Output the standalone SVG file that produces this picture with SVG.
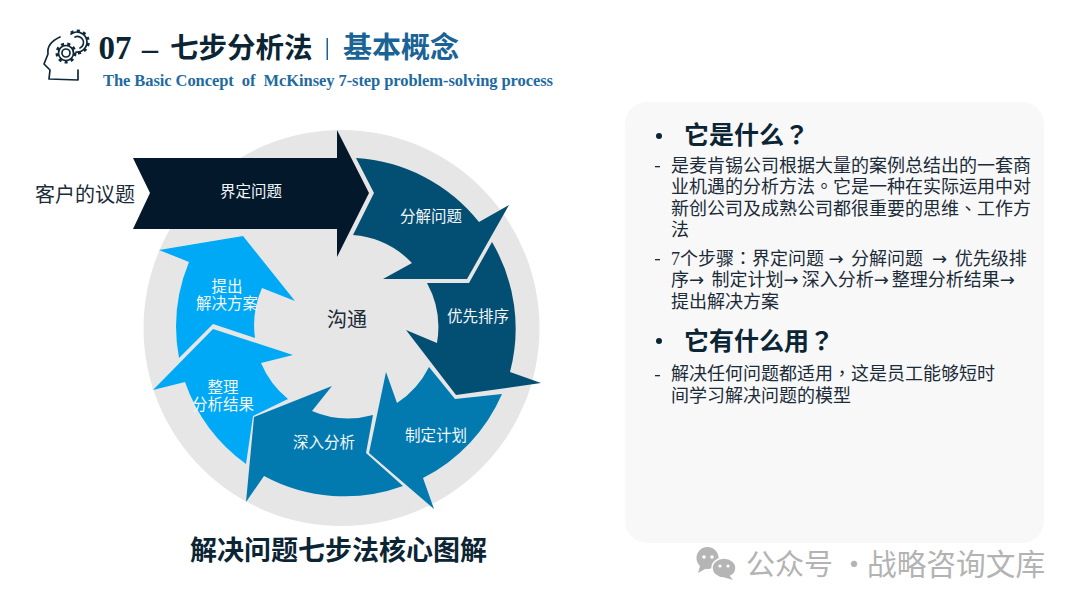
<svg xmlns="http://www.w3.org/2000/svg" width="1080" height="608" viewBox="0 0 1080 608">
<style>
text{font-family:"Liberation Serif","Noto Sans CJK SC",serif;white-space:pre}
.w{fill:#f2f6f9;font-size:15.5px;text-anchor:middle}
.b{fill:#1b2b38;font-size:18px}
.h{fill:#0b2535;font-size:25px;font-weight:700}
.p{font-family:"Liberation Serif","Noto Sans CJK TC",sans-serif}
.a{font-family:"DejaVu Sans",sans-serif;letter-spacing:3px}
.i{fill:none;stroke:#10293a;stroke-width:1.7;stroke-linecap:round;stroke-linejoin:round}
.t{fill:none;stroke:#10293a;stroke-width:3;stroke-dasharray:3 3.2}
.d1{fill:#03192b}.d2{fill:#034e73}.d3{fill:#027ab0}.d4{fill:#00a9f5}
</style>
<rect width="1080" height="608" fill="#fff"/>
<g id="header">
<g id="icon">
<path class="i" d="M60 37C51 41 47 47 48 54L44 64L50 70L49 79L78 80V70"/>
<path class="i" d="M71 34A10 10 0 1 1 76 52"/>
<path class="t" d="M71 33A11 11 0 1 1 77 53"/>
<path class="i" d="M75 37A6 6 0 1 1 80 48"/>
<circle class="i" cx="66" cy="53" r="4"/><circle class="i" cx="66" cy="53" r="7.500"/><circle class="t" cx="66" cy="53" r="9" stroke-width="2.500" stroke-dasharray="3 4"/>
</g>
<text x="98.500" y="59" font-size="33" font-weight="700" fill="#0b2535">07</text>
<text x="142" y="59" font-size="32" font-weight="700" fill="#0b2535">–</text>
<text x="170" y="58" font-size="28.500" font-weight="700" fill="#0b2535">七步分析法</text>
<rect x="326.500" y="38" width="1.500" height="22" fill="#1a6396"/>
<text x="343" y="58" font-size="29" font-weight="700" fill="#1a6396">基本概念</text>
<text x="103" y="86" font-size="16.500" font-weight="700" fill="#1f6a9f" textLength="450" lengthAdjust="spacing">The Basic Concept  of  McKinsey 7-step problem-solving process</text>
</g>
<circle id="disc" cx="341.5" cy="328" r="198" fill="#e6e6e6"/>
<g id="step1"><path class="d1" d="M133 158H337V130L369 193L337 257V229H133L150 193Z"/><text class="w" x="251" y="197">界定问题</text></g>
<g id="step2"><path class="d2" d="M356 158A170 170 0 0 1 479 222L509 205L467 279H383L412 263A92 92 0 0 0 353 235L374 193Z"/><text class="w" x="431" y="222">分解问题</text></g>
<g id="step3"><path class="d2" d="M492 242A170 170 0 0 1 510 372L541 383L456 395L406 330L437 343A92 92 0 0 0 427 283H469Z"/><text class="w" x="478" y="322">优先排序</text></g>
<g id="step4"><path class="d3" d="M429 367L455 399L502 394A170 170 0 0 1 423 478L434 509L369 453L386 372L397 403A92 92 0 0 0 429 367Z"/><text class="w" x="436" y="441">制定计划</text></g>
<g id="step5"><path class="d3" d="M332 386L254 417L246 502L264 476A170 170 0 0 0 403 486L366 453L373 415A92 92 0 0 1 312 411Z"/><text class="w" x="324" y="448">深入分析</text></g>
<g id="step6"><path class="d4" d="M213 329L293 355L261 363A92 92 0 0 0 288 399L253 416L246 464A170 170 0 0 1 185 382L153 390Z"/><text class="w" x="223" y="393">整理</text><text class="w" x="223" y="410">分析结果</text></g>
<g id="step7"><path class="d4" d="M159 250L243 236L295 301L262 288A92 92 0 0 0 255 338L213 324L179 358A170 170 0 0 1 189 262Z"/><text class="w" x="227" y="292">提出</text><text class="w" x="227" y="309">解决方案</text></g>
<text x="347" y="327" font-size="20" text-anchor="middle" fill="#1b2b38">沟通</text>
<text x="85" y="202" font-size="20" text-anchor="middle" fill="#1b2b38">客户的议题</text>
<text x="338.500" y="560" font-size="27" font-weight="700" text-anchor="middle" fill="#0b2535">解决问题七步法核心图解</text>
<g id="panel">
<rect x="625" y="102" width="419" height="441" rx="22" fill="#f8f8f9"/>
<circle cx="659" cy="136" r="3" fill="#0b2535"/>
<text class="h" x="684" y="144">它是什么<tspan class="p">？</tspan></text>
<rect x="655" y="166" width="5" height="1.300" fill="#1b2b38"/>
<text class="b" x="671" y="172">是麦肯锡公司根据大量的案例总结出的一套商</text>
<text class="b" x="671" y="193">业机遇的分析方法<tspan class="p">。</tspan>它是一种在实际运用中对</text>
<text class="b" x="671" y="215">新创公司及成熟公司都很重要的思维<tspan class="p">、</tspan>工作方</text>
<text class="b" x="671" y="236">法</text>
<rect x="655" y="259" width="5" height="1.300" fill="#1b2b38"/>
<text class="b" x="671" y="265">7个步骤<tspan class="p">：</tspan>界定问题 <tspan class="a">→</tspan> 分解问题  <tspan class="a">→</tspan> 优先级排</text>
<text class="b" x="671" y="286">序<tspan class="a">→</tspan> 制定计划<tspan class="a">→</tspan>深入分析<tspan class="a">→</tspan>整理分析结果<tspan class="a">→</tspan></text>
<text class="b" x="671" y="308">提出解决方案</text>
<circle cx="659" cy="341" r="3" fill="#0b2535"/>
<text class="h" x="684" y="350">它有什么用<tspan class="p">？</tspan></text>
<rect x="655" y="375" width="5" height="1.300" fill="#1b2b38"/>
<text class="b" x="671" y="380">解决任何问题都适用<tspan class="p">，</tspan>这是员工能够短时</text>
<text class="b" x="671" y="402">间学习解决问题的模型</text>
</g>
<g id="watermark">
<ellipse cx="707.500" cy="558" rx="11" ry="11" fill="#b5b5b5"/>
<path d="M700 566L698 573L707 568Z" fill="#b5b5b5"/>
<ellipse cx="724" cy="568" rx="12" ry="10" fill="#b5b5b5" stroke="#fff" stroke-width="1.500"/>
<path d="M729 575L733 580L723 577Z" fill="#b5b5b5"/>
<circle cx="704" cy="557" r="1.800" fill="#fff"/><circle cx="712" cy="557" r="1.800" fill="#fff"/>
<circle cx="720" cy="566" r="1.600" fill="#fff"/><circle cx="728" cy="566" r="1.600" fill="#fff"/>
<g font-size="29" fill="#b3b3b3" style="font-family:'Noto Sans CJK SC','Liberation Sans',sans-serif">
<text x="746" y="575" style="font-family:inherit">公众号 ·</text>
<text x="867" y="575" font-size="29.700" style="font-family:inherit">战略咨询文库</text>
</g>
</g>
</svg>
